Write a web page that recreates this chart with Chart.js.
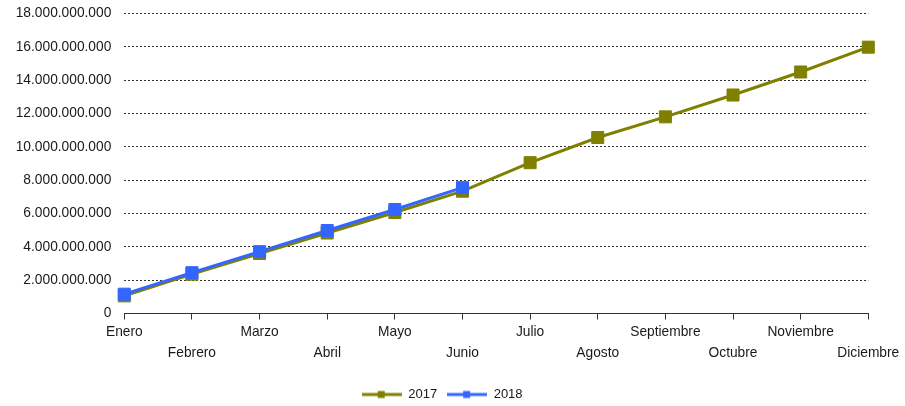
<!DOCTYPE html>
<html>
<head>
<meta charset="utf-8">
<script src="https://cdn.jsdelivr.net/npm/chart.js@4/dist/chart.umd.min.js"></script>
<style>
  html, body { margin: 0; padding: 0; background: #fff; }
  #wrap { width: 905px; height: 406px; position: relative; }
</style>
</head>
<body>
<div id="wrap"><canvas id="c"></canvas></div>
<script>
const months = ['Enero','Febrero','Marzo','Abril','Mayo','Junio','Julio','Agosto','Septiembre','Octubre','Noviembre','Diciembre'];
const series2017 = [1060000000, 2360000000, 3600000000, 4830000000, 6060000000, 7340000000, 9050000000, 10560000000, 11800000000, 13110000000, 14490000000, 15980000000];
const series2018 = [1160000000, 2450000000, 3710000000, 4980000000, 6240000000, 7550000000];
const yMin = 0, yMax = 18000000000, yStep = 2000000000;

const olive = '#808000';
const blue = '#3366FF';
const textColor = '#1a1a1a';
const FONT = "'Liberation Sans', Arial, sans-serif";

function fmt(v) {
  return String(Math.round(v)).replace(/\B(?=(\d{3})+(?!\d))/g, '.');
}

function legendIcon(color) {
  const c = document.createElement('canvas');
  c.width = 40; c.height = 10;
  const g = c.getContext('2d');
  g.strokeStyle = color; g.lineWidth = 3;
  g.beginPath(); g.moveTo(0, 5); g.lineTo(40, 5); g.stroke();
  g.fillStyle = color;
  g.fillRect(16, 1.5, 7, 7);
  return c;
}
const icons = [legendIcon(olive), legendIcon(blue)];

// alternate label rows
const xLabels = months.map((m, i) => i % 2 === 0 ? [m, ''] : ['', m]);

new Chart(document.getElementById('c'), {
  type: 'line',
  data: {
    labels: xLabels,
    datasets: [
      {
        label: '2017',
        data: series2017,
        borderColor: olive,
        backgroundColor: olive,
        borderWidth: 3,
        pointStyle: 'rect',
        pointRadius: 8.5,
        pointBorderWidth: 1,
        pointBorderColor: olive,
        pointBackgroundColor: olive,
        tension: 0,
        clip: false,
        order: 1
      },
      {
        label: '2018',
        data: series2018,
        borderColor: blue,
        backgroundColor: blue,
        borderWidth: 3,
        pointStyle: 'rect',
        pointRadius: 8.5,
        pointBorderWidth: 1,
        pointBorderColor: blue,
        pointBackgroundColor: blue,
        tension: 0,
        clip: false,
        order: 0
      }
    ]
  },
  options: {
    responsive: true,
    maintainAspectRatio: false,
    animation: false,
    layout: { autoPadding: false, padding: { left: 16, right: 36.7, top: 13.5, bottom: -5 } },
    plugins: {
      tooltip: { enabled: false },
      legend: {
        position: 'bottom',
        labels: {
          color: textColor,
          font: { family: FONT, size: 13 },
          usePointStyle: true,
          pointStyleWidth: 40,
          boxHeight: 10,
          padding: 10,
          generateLabels(chart) {
            const items = Chart.defaults.plugins.legend.labels.generateLabels(chart);
            items.sort((a, b) => a.datasetIndex - b.datasetIndex);
            items.forEach(it => { it.pointStyle = icons[it.datasetIndex]; });
            return items;
          }
        }
      }
    },
    scales: {
      x: {
        type: 'category',
        offset: false,
        afterFit(scale) {
          scale.height += 12.4;
          scale.paddingLeft = 0;
          scale.paddingRight = 0;
        },
        grid: {
          display: true,
          drawOnChartArea: false,
          drawTicks: true,
          tickLength: 6,
          color: '#333'
        },
        border: { display: true, color: '#333', width: 1 },
        ticks: {
          autoSkip: false,
          maxRotation: 0,
          minRotation: 0,
          padding: 2,
          color: textColor,
          font: { family: FONT, size: 13.75, lineHeight: 1.53 }
        }
      },
      y: {
        min: yMin,
        max: yMax,
        afterFit(scale) {
          scale.width = 108.3;
          scale.paddingTop = 0;
          scale.paddingBottom = 0;
        },
        grid: {
          color: '#333',
          lineWidth: 1,
          drawTicks: false
        },
        border: { display: false, dash: [2, 2] },
        ticks: {
          stepSize: yStep,
          padding: 13,
          color: textColor,
          font: { family: FONT, size: 13.75 },
          callback: v => fmt(v)
        }
      }
    }
  }
});
</script>
</body>
</html>
